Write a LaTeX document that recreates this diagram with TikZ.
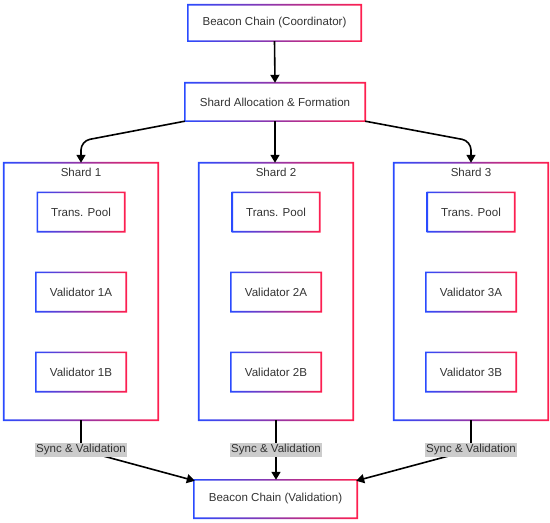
\documentclass[tikz,border=0pt]{standalone}
\usepackage{fontspec}
\setmainfont{Liberation Sans}
\usetikzlibrary{arrows.meta}
\definecolor{cb}{HTML}{2A4BFF}
\definecolor{cr}{HTML}{FF1F4F}
\definecolor{txt}{HTML}{333333}
\definecolor{lbg}{HTML}{CCCCCC}
\newcommand\gborder[2][1.6]{%
  \shade[left color=cb, right color=cr, even odd rule]
    ([shift={(-#1bp/2,-#1bp/2)}]#2.south west) rectangle ([shift={(#1bp/2,#1bp/2)}]#2.north east)
    ([shift={(#1bp/2,#1bp/2)}]#2.south west) rectangle ([shift={(-#1bp/2,-#1bp/2)}]#2.north east);}
\begin{document}
\begin{tikzpicture}[x=1bp,y=-1bp,
  font=\fontsize{11.6}{14}\selectfont, text=txt,
  box/.style={rectangle, fill=white, draw=none, inner sep=0pt, align=center},
  shardbox/.style={rectangle, draw=none, inner sep=0pt, minimum width=154bp, minimum height=257bp},
  tpbox/.style={box, minimum width=87bp, minimum height=39bp},
  valbox/.style={box, minimum width=90bp, minimum height=39bp},
  syncl/.style={fill=lbg, inner xsep=1.5bp, inner ysep=2bp, text=txt},
  arr/.style={draw=black, line width=1.6bp, -{Triangle[length=8bp,width=9bp]}},
  ln/.style={draw=black, line width=1.6bp}]
\useasboundingbox (0,0) rectangle (550,523);

\node[box, minimum width=173bp, minimum height=36bp] (top) at (274.5,23) {Beacon Chain (Coordinator)};
\node[box, minimum width=180bp, minimum height=38bp] (alloc) at (275,102) {Shard Allocation \& Formation};
\node[box, minimum width=163bp, minimum height=38bp] (bot) at (275.5,499) {Beacon Chain (Validation)};

\foreach \i/\x in {1/81,2/276,3/471}{
  \node[shardbox] (s\i) at (\x,291.5) {};
  \gborder[1.8]{s\i}
  \node[anchor=north] (s\i t) at ([yshift=-2bp]s\i.north) {Shard \i};
  \node[tpbox] (tp\i) at (\x,212) {Trans. Pool};
  \node[valbox] (v\i a) at (\x,292) {Validator \i A};
  \node[valbox] (v\i b) at (\x,372) {Validator \i B};
  \gborder{tp\i}
  \gborder{v\i a}
  \gborder{v\i b}
}
\gborder{top}
\gborder{alloc}
\gborder{bot}

% arrows
\draw[arr] (top.south) -- (alloc.north);
\draw[arr] (alloc.south) -- (alloc.south |- s2.north);
\draw[arr, rounded corners=9bp] (alloc.south west) -- (s1.north |- 0,141) -- (s1.north);
\draw[arr, rounded corners=9bp] (alloc.south east) -- (s3.north |- 0,141) -- (s3.north);

\coordinate (m1) at (81,450);
\coordinate (m2) at (276,450);
\coordinate (m3) at (471,450);
\draw[arr] (s1.south) -- (m1) -- ([shift={(1bp,-1bp)}]bot.north west);
\draw[arr] (s2.south) -- (m2) -- (bot.north -| s2.south);
\draw[arr] (s3.south) -- (m3) -- ([shift={(-1bp,-1bp)}]bot.north east);

\node[syncl] (l1) at (m1) {Sync \& Validation};
\node[syncl] (l2) at (m2) {Sync \& Validation};
\node[syncl] (l3) at (m3) {Sync \& Validation};
\end{tikzpicture}
\end{document}
